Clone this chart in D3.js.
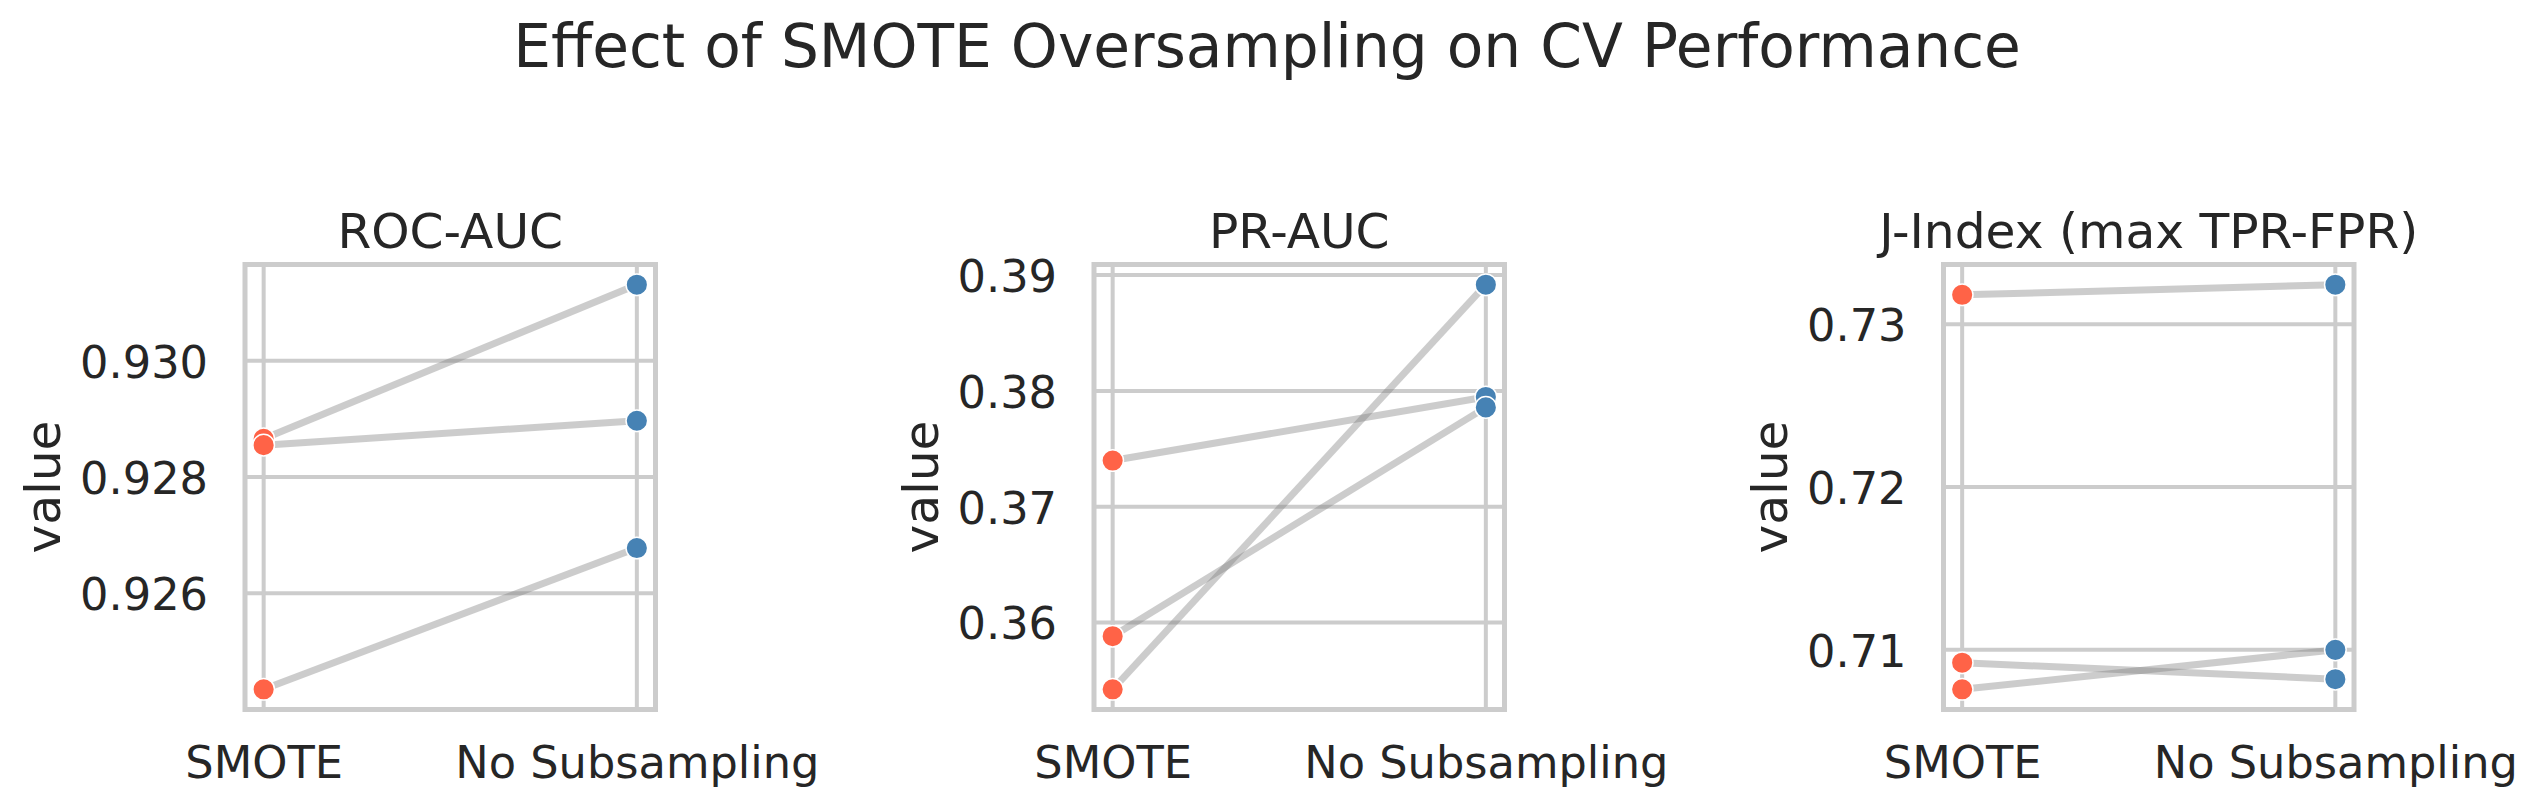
<!DOCTYPE html>
<html>
<head>
<meta charset="utf-8">
<script src="https://cdn.jsdelivr.net/npm/d3@7"></script>
<style>
  html, body { margin: 0; padding: 0; background: #ffffff; }
  svg { display: block; font-family: "DejaVu Sans", sans-serif; }
</style>
</head>
<body>
<svg id="chart" width="2540" height="809"></svg>
<script>
// ---- data ----
const figureTitle = "Effect of SMOTE Oversampling on CV Performance";
const categories = ["SMOTE", "No Subsampling"];
const metrics = ["ROC-AUC", "PR-AUC", "J-Index (max TPR-FPR)"];
const yLabel = "value";

const rocSmote = [0.92866, 0.92855, 0.92435];
const rocNoSub = [0.93131, 0.92897, 0.92678];
const prSmote  = [0.37399, 0.35882, 0.35424];
const prNoSub  = [0.37948, 0.37858, 0.38917];
const jSmote   = [0.73180, 0.70921, 0.70758];
const jNoSub   = [0.73242, 0.70820, 0.71000];

const rocTicks = [0.926, 0.928, 0.930];
const prTicks  = [0.36, 0.37, 0.38, 0.39];
const jTicks   = [0.71, 0.72, 0.73];

const rocTickFmt = ".3f";
const prTickFmt  = ".2f";
const jTickFmt   = ".2f";

const panelData = [
  { title: metrics[0], smote: rocSmote, nosub: rocNoSub, ticks: rocTicks, fmt: rocTickFmt },
  { title: metrics[1], smote: prSmote,  nosub: prNoSub,  ticks: prTicks,  fmt: prTickFmt },
  { title: metrics[2], smote: jSmote,   nosub: jNoSub,   ticks: jTicks,   fmt: jTickFmt }
];

// ---- style / layout ----
const textColor = "#262626";
const gridColor = "#cccccc";
const catColors = ["#FF6347", "#4682B4"];
const tickFont = 44.7, labelFont = 48.7, titleFont = 48.7, supFont = 59.8;

const svg = d3.select("#chart");
svg.append("rect").attr("width", 2540).attr("height", 809).attr("fill", "#fff");

svg.append("text")
  .attr("x", 1267).attr("y", 66.5)
  .attr("text-anchor", "middle")
  .attr("font-size", supFont)
  .attr("fill", textColor)
  .text(figureTitle);

const plotTop = 264.5, plotBottom = 709.5, pw = 410.5;
const lefts = [245, 1094, 1943.5];

panelData.forEach((p, i) => {
  const left = lefts[i], right = left + pw;
  const g = svg.append("g");

  const all = p.smote.concat(p.nosub);
  const lo = d3.min(all), hi = d3.max(all), pad = (hi - lo) * 0.05;
  const y = d3.scaleLinear().domain([lo - pad, hi + pad]).range([plotBottom, plotTop]);
  const x = d3.scaleLinear().domain([-0.05, 1.05]).range([left, right]);

  // grid
  g.append("g").selectAll("line").data(p.ticks).join("line")
    .attr("x1", left).attr("x2", right)
    .attr("y1", d => y(d)).attr("y2", d => y(d))
    .attr("stroke", gridColor).attr("stroke-width", 4);
  g.append("g").selectAll("line").data(categories).join("line")
    .attr("x1", (d, k) => x(k)).attr("x2", (d, k) => x(k))
    .attr("y1", plotTop).attr("y2", plotBottom)
    .attr("stroke", gridColor).attr("stroke-width", 4);

  // y axis labels via d3 axis
  const yAxis = d3.axisLeft(y).tickValues(p.ticks).tickFormat(d3.format(p.fmt)).tickSize(0).tickPadding(37);
  const ya = g.append("g").attr("transform", `translate(${left},0)`).call(yAxis);
  ya.select(".domain").remove();
  ya.selectAll("text").attr("font-size", tickFont).attr("fill", textColor)
    .attr("font-family", "DejaVu Sans").attr("dy", "0.365em");

  // x axis labels
  const xAxis = d3.axisBottom(x).tickValues([0, 1]).tickFormat(k => categories[k]).tickSize(0).tickPadding(0);
  const xa = g.append("g").attr("transform", `translate(0,${plotBottom})`).call(xAxis);
  xa.select(".domain").remove();
  xa.selectAll("text").attr("font-size", tickFont).attr("fill", textColor)
    .attr("font-family", "DejaVu Sans").attr("dy", null).attr("y", 68.5);

  // y label
  let maxW = 0;
  ya.selectAll("text").each(function() { maxW = Math.max(maxW, this.getComputedTextLength()); });
  const lx = left - 37 - maxW - 20;
  g.append("text")
    .attr("transform", `translate(${lx},${(plotTop + plotBottom) / 2}) rotate(-90)`)
    .attr("text-anchor", "middle")
    .attr("font-size", labelFont).attr("fill", textColor)
    .text(yLabel);

  // title
  g.append("text")
    .attr("x", (left + right) / 2).attr("y", 247.5)
    .attr("text-anchor", "middle")
    .attr("font-size", titleFont).attr("fill", textColor)
    .text(p.title);

  // connecting lines
  const pairs = p.smote.map((v, k) => [v, p.nosub[k]]);
  g.append("g").selectAll("line").data(pairs).join("line")
    .attr("x1", x(0)).attr("x2", x(1))
    .attr("y1", d => y(d[0])).attr("y2", d => y(d[1]))
    .attr("stroke", "#808080").attr("stroke-opacity", 0.4).attr("stroke-width", 7);

  // markers
  [p.smote, p.nosub].forEach((vals, c) => {
    g.append("g").selectAll("circle").data(vals).join("circle")
      .attr("cx", x(c)).attr("cy", d => y(d)).attr("r", 10.8)
      .attr("fill", catColors[c]).attr("stroke", "#fff").attr("stroke-width", 1.5);
  });

  // frame
  g.append("rect")
    .attr("x", left).attr("y", plotTop).attr("width", pw).attr("height", plotBottom - plotTop)
    .attr("fill", "none").attr("stroke", gridColor).attr("stroke-width", 5);
});
</script>
</body>
</html>
